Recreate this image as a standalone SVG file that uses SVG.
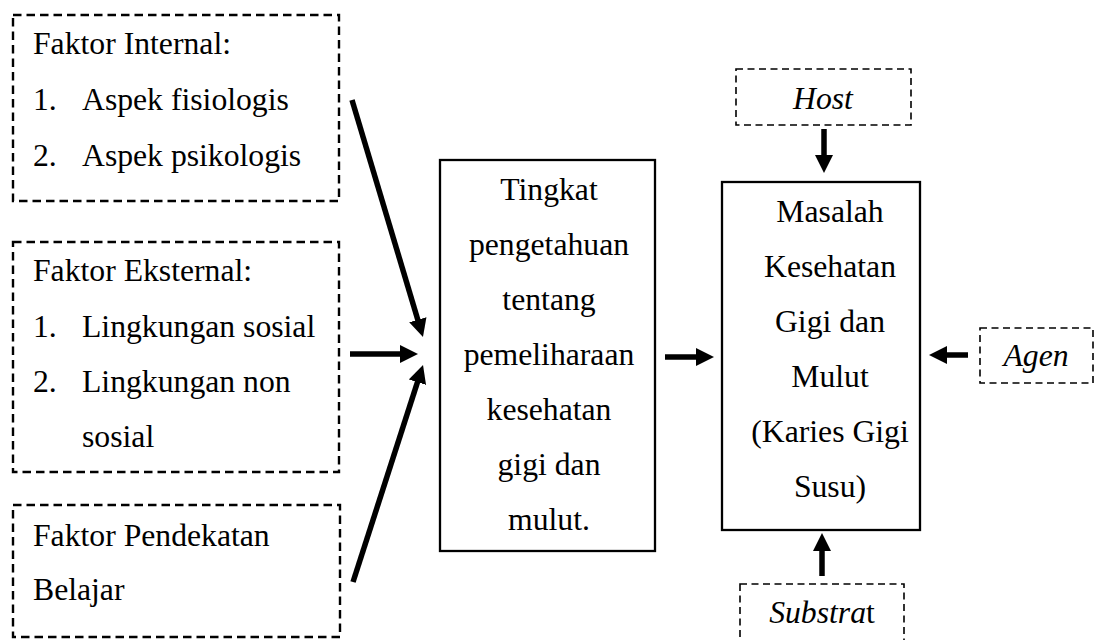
<svg xmlns="http://www.w3.org/2000/svg" width="1096" height="640" viewBox="0 0 1096 640">
<style>
text{font-family:'Liberation Serif','Times New Roman',Times,serif;font-size:31.7px;fill:#000}
.c{text-anchor:middle}
.i{font-style:italic}
.dash{fill:#fff;stroke:#000;stroke-width:2.4;stroke-dasharray:8.5 5}
.dash2{fill:#fff;stroke:#000;stroke-width:1.6;stroke-dasharray:7 4.5}
.solid{fill:#fff;stroke:#000;stroke-width:2.3}
.arr{stroke:#000;stroke-width:5.5;fill:none;marker-end:url(#ah)}
</style>
<defs>
<marker id="ah" markerUnits="userSpaceOnUse" markerWidth="20" markerHeight="20" refX="1" refY="9" orient="auto">
<path d="M0,0 L18,9 L0,18 z" fill="#000"/>
</marker>
</defs>
<rect width="1096" height="640" fill="#fff"/>
<g font-family="Liberation Serif, Times New Roman, serif" font-size="31.7">
<g id="internal">
<rect class="dash" x="13" y="15" width="326" height="186"/>
<text x="33" y="54">Faktor Internal:</text>
<text x="33" y="110">1.</text><text x="82" y="110">Aspek fisiologis</text>
<text x="33" y="166">2.</text><text x="82" y="166">Aspek psikologis</text>
</g>
<g id="eksternal">
<rect class="dash" x="13" y="242" width="326" height="230"/>
<text x="33" y="281">Faktor Eksternal:</text>
<text x="33" y="337">1.</text><text x="82" y="337">Lingkungan sosial</text>
<text x="33" y="392">2.</text><text x="82" y="392">Lingkungan non</text>
<text x="82" y="447">sosial</text>
</g>
<g id="pendekatan">
<rect class="dash" x="13" y="505" width="327" height="132"/>
<text x="33" y="546">Faktor Pendekatan</text>
<text x="33" y="600">Belajar</text>
</g>
<g id="tingkat">
<rect class="solid" x="440" y="160" width="215" height="391"/>
<text class="c" x="549" y="200">Tingkat</text>
<text class="c" x="549" y="255">pengetahuan</text>
<text class="c" x="549" y="310">tentang</text>
<text class="c" x="549" y="365">pemeliharaan</text>
<text class="c" x="549" y="420">kesehatan</text>
<text class="c" x="549" y="475">gigi dan</text>
<text class="c" x="549" y="530">mulut.</text>
</g>
<g id="masalah">
<rect class="solid" x="722" y="182" width="198" height="348"/>
<text class="c" x="830" y="222">Masalah</text>
<text class="c" x="830" y="277">Kesehatan</text>
<text class="c" x="830" y="332">Gigi dan</text>
<text class="c" x="830" y="387">Mulut</text>
<text class="c" x="830" y="442">(Karies Gigi</text>
<text class="c" x="830" y="497">Susu)</text>
</g>
<g id="host">
<rect class="dash2" x="736" y="69" width="175" height="56"/>
<text class="c i" x="823" y="109">Host</text>
</g>
<g id="agen">
<rect class="dash2" x="980" y="328" width="113" height="55"/>
<text class="c i" x="1036" y="366">Agen</text>
</g>
<g id="substrat">
<rect class="dash2" x="740" y="584" width="164" height="58"/>
<text class="c" x="822" y="623"><tspan class="i">Substra</tspan>t</text>
</g>
</g>
<g id="connectors">
<line class="arr" x1="352" y1="100" x2="418.1" y2="320.7"/>
<line class="arr" x1="350" y1="354" x2="401" y2="354"/>
<line class="arr" x1="353" y1="582" x2="417.8" y2="381.2"/>
<line class="arr" x1="665" y1="357" x2="697" y2="357"/>
<line class="arr" x1="824" y1="129" x2="824" y2="156"/>
<line class="arr" x1="968" y1="355" x2="946" y2="355"/>
<line class="arr" x1="822" y1="576" x2="822" y2="550"/>
</g>
</svg>
